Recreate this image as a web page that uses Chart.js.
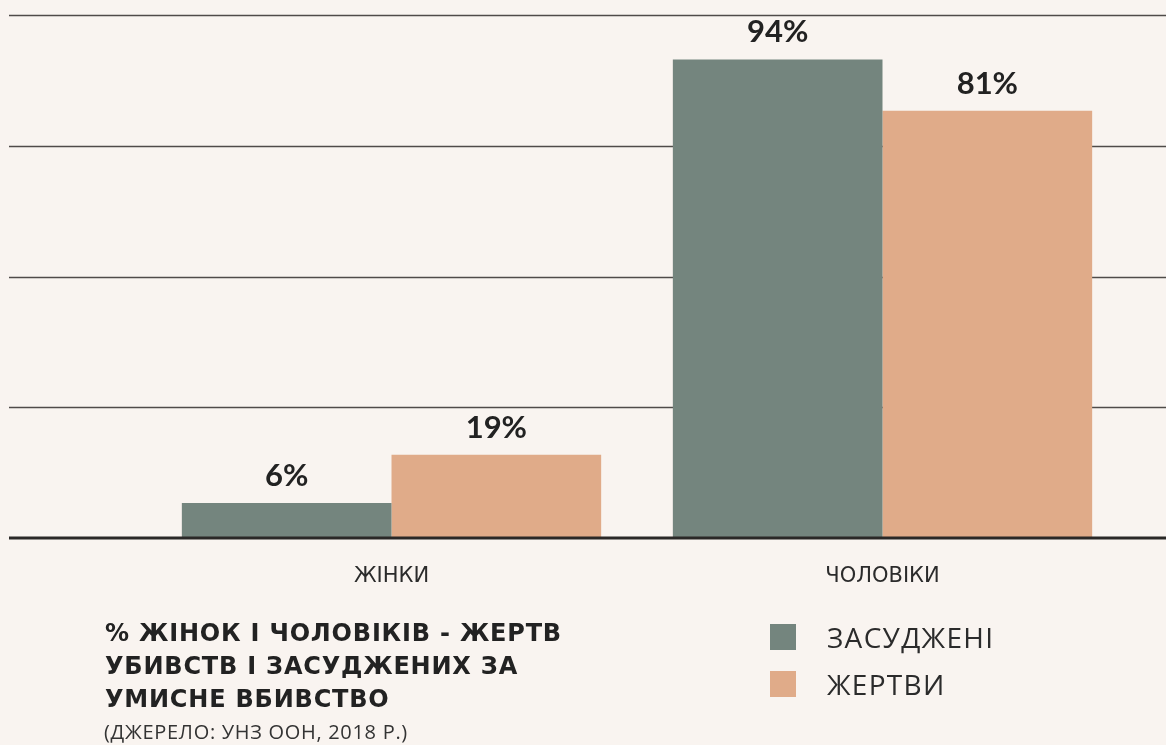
<!DOCTYPE html>
<html>
<head>
<meta charset="utf-8">
<script src="https://cdn.jsdelivr.net/npm/chart.js@4.4.1/dist/chart.umd.min.js"></script>
<style>
  body { margin: 0; background: #f9f4f0; }
  #wrap { position: relative; width: 1166px; height: 745px; overflow: hidden; }
  #title { position: absolute; left: 105px; top: 617px; font-family: "DejaVu Sans", sans-serif; font-weight: bold;
           font-size: 24px; line-height: 33px; letter-spacing: 0.8px; color: #222; margin: 0; white-space: nowrap; }
  #source { position: absolute; left: 104px; top: 718px; font-family: "Open Sans", sans-serif; font-size: 20px;
            letter-spacing: 0.7px; color: #333; white-space: nowrap; }
  #legend { position: absolute; left: 770px; top: 624px; font-family: "Open Sans", sans-serif; }
  .item { display: flex; align-items: center; height: 26px; margin-bottom: 21px; }
  .box { width: 26px; height: 26px; margin-right: 31px; }
  .lbl { font-size: 28px; letter-spacing: 1.3px; color: #2b2b2b; }
</style>
</head>
<body>
<div id="wrap">
  <canvas id="myChart" width="1166" height="745"></canvas>
  <div id="title">% ЖІНОК І ЧОЛОВІКІВ - ЖЕРТВ<br>УБИВСТВ І ЗАСУДЖЕНИХ ЗА<br>УМИСНЕ ВБИВСТВО</div>
  <div id="source">(ДЖЕРЕЛО: УНЗ ООН, 2018 Р.)</div>
  <div id="legend"></div>
</div>
<script>
let categories = ["ЖІНКИ", "ЧОЛОВІКИ"];
let seriesNames = ["ЗАСУДЖЕНІ", "ЖЕРТВИ"];
// bar heights as drawn in the picture (the printed labels don't quite match them)
let convicted = [6.7, 91.5];
let victims = [15.9, 81.7];
let convictedLabels = ["6%", "94%"];
let victimsLabels = ["19%", "81%"];
let gridValues = [0, 25, 50, 75, 100];

let colors = ["#74857e", "#e0ab89"];

// long horizontal lines go from the left edge to the right edge, wider than the plot
const gridLines = {
    id: 'gridLines',
    beforeDatasetsDraw(chart) {
        const ctx = chart.ctx;
        const yScale = chart.scales.y;
        ctx.save();
        ctx.strokeStyle = '#4f4b49';
        ctx.lineWidth = 1.5;
        for (let v of gridValues) {
            if (v === 0) continue;
            let py = Math.round(yScale.getPixelForValue(v)) + 0.5;
            ctx.beginPath();
            ctx.moveTo(9, py);
            ctx.lineTo(chart.width, py);
            ctx.stroke();
        }
        ctx.restore();
    },
    afterDatasetsDraw(chart) {
        const ctx = chart.ctx;
        const py = chart.scales.y.getPixelForValue(0);
        ctx.save();
        ctx.strokeStyle = '#2a2827';
        ctx.lineWidth = 3;
        ctx.beginPath();
        ctx.moveTo(9, py);
        ctx.lineTo(chart.width, py);
        ctx.stroke();
        ctx.restore();
    }
};

const valueLabels = {
    id: 'valueLabels',
    afterDatasetsDraw(chart) {
        const ctx = chart.ctx;
        const allLabels = [convictedLabels, victimsLabels];
        ctx.save();
        ctx.font = 'bold 31px Lato, sans-serif';
        ctx.fillStyle = '#222';
        ctx.textAlign = 'center';
        ctx.textBaseline = 'alphabetic';
        chart.data.datasets.forEach((ds, i) => {
            chart.getDatasetMeta(i).data.forEach((bar, j) => {
                ctx.fillText(allLabels[i][j], bar.x, bar.y - 17);
            });
        });
        ctx.restore();
    }
};

const ctx = document.getElementById('myChart').getContext('2d');
const myChart = new Chart(ctx, {
    type: 'bar',
    data: {
        labels: categories,
        datasets: [
            { label: seriesNames[0], data: convicted, backgroundColor: colors[0] },
            { label: seriesNames[1], data: victims, backgroundColor: colors[1] }
        ]
    },
    options: {
        responsive: false,
        animation: false,
        layout: { padding: { left: 146, right: 38, top: 15, bottom: 0 } },
        datasets: { bar: { categoryPercentage: 0.854, barPercentage: 1.0 } },
        plugins: {
            legend: { display: false },
            tooltip: { enabled: false }
        },
        scales: {
            x: {
                grid: { display: false },
                border: { display: false },
                ticks: {
                    color: '#2b2b2b',
                    padding: 18,
                    font: { family: 'DejaVu Sans', size: 21 }
                },
                afterFit: (scale) => { scale.height = 207; }
            },
            y: {
                min: 0,
                max: 100,
                ticks: { display: false, stepSize: 25 },
                grid: { display: false },
                border: { display: false },
                afterFit: (scale) => { scale.width = 0; }
            }
        }
    },
    plugins: [gridLines, valueLabels]
});

// legend built from the chart's own datasets
let legendDiv = document.getElementById('legend');
myChart.data.datasets.forEach(ds => {
    let item = document.createElement('div');
    item.className = 'item';
    item.innerHTML = '<div class="box" style="background:' + ds.backgroundColor + '"></div><span class="lbl">' + ds.label + '</span>';
    legendDiv.appendChild(item);
});
</script>
</body>
</html>
